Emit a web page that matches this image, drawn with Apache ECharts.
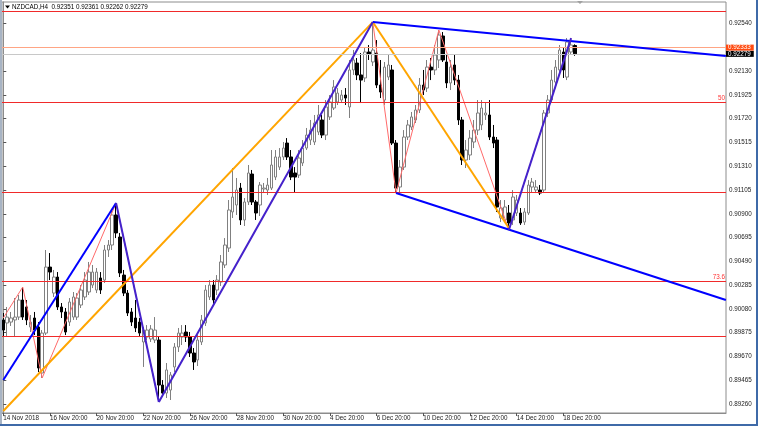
<!DOCTYPE html>
<html><head><meta charset="utf-8">
<script src="https://cdn.jsdelivr.net/npm/echarts@6/dist/echarts.min.js"></script>
<style>html,body{margin:0;padding:0;background:#fff}#c{width:758px;height:426px}</style>
</head><body><div id="c"></div>
<script>
// ---- data ----
const symbolName = 'NZDCAD,H4';
const timeLabels = ['14 Nov 2018','16 Nov 20:00','20 Nov 20:00','22 Nov 20:00','26 Nov 20:00','28 Nov 20:00','30 Nov 20:00','4 Dec 20:00','6 Dec 20:00','10 Dec 20:00','12 Dec 20:00','14 Dec 20:00','18 Dec 20:00'];
const timeLabelBars = [0,12,24,36,48,60,72,84,96,108,120,132,144];
const priceTicks = [0.92540,0.92130,0.91925,0.91720,0.91515,0.91310,0.91105,0.90900,0.90695,0.90490,0.90285,0.90080,0.89875,0.89670,0.89465,0.89260];

const opens = [
0.89985,0.89959,0.89967,0.89985,0.90010,0.90157,0.90097,0.89924,0.90002,0.89924,
0.89528,0.89872,0.90441,0.90217,0.90355,0.90097,0.90054,0.89967,0.90010,0.90010,
0.90114,0.90183,0.90226,0.90286,0.90243,0.90347,0.90329,0.90588,0.90631,0.90890,
0.90700,0.90372,0.90217,0.90054,0.90002,0.89967,0.89795,0.89838,0.89821,0.89812,
0.89812,0.89424,0.89355,0.89381,0.89580,0.89752,0.89838,0.89881,0.89838,0.89700,
0.89640,0.89795,0.89959,0.90183,0.90286,0.90243,0.90312,0.90459,0.90605,0.90916,
0.90976,0.91122,0.90847,0.91002,0.91243,0.91002,0.90976,0.91114,0.91105,0.91122,
0.91217,0.91303,0.91390,0.91510,0.91390,0.91252,0.91234,0.91338,0.91467,0.91536,
0.91519,0.91605,0.91709,0.91579,0.91735,0.91812,0.91864,0.91881,0.91924,0.91821,
0.92140,0.92200,0.92097,0.92071,0.92295,0.92209,0.92286,0.92010,0.91881,0.92079,
0.92140,0.91510,0.91131,0.91303,0.91562,0.91648,0.91709,0.91795,0.92010,0.91984,
0.92165,0.92140,0.92226,0.92433,0.92209,0.92028,0.92183,0.92053,0.91709,0.91364,
0.91407,0.91519,0.91622,0.91666,0.91752,0.91752,0.91562,0.91536,0.90864,0.90847,
0.90907,0.90847,0.90907,0.90907,0.90829,0.90907,0.91131,0.91105,0.91105,0.91105,
0.91769,0.91881,0.92036,0.92140,0.92295,0.92079,0.92295,0.92351];
const closes = [
0.89898,0.90010,0.90002,0.90010,0.90157,0.90010,0.89985,0.89967,0.89898,0.89571,
0.89872,0.90441,0.90398,0.90355,0.90097,0.90054,0.89881,0.90140,0.90183,0.90174,
0.90243,0.90329,0.90398,0.90398,0.90398,0.90243,0.90588,0.90631,0.90890,0.90735,
0.90390,0.90217,0.90045,0.89967,0.89916,0.89872,0.89898,0.89898,0.89907,0.89898,
0.89424,0.89355,0.89554,0.89511,0.89752,0.89872,0.89872,0.89838,0.89700,0.89623,
0.89812,0.89985,0.90243,0.90286,0.90157,0.90329,0.90485,0.90631,0.90933,0.91045,
0.91105,0.90847,0.91002,0.91252,0.91002,0.90907,0.91148,0.91122,0.91148,0.91321,
0.91390,0.91390,0.91467,0.91390,0.91217,0.91217,0.91381,0.91467,0.91579,0.91622,
0.91683,0.91752,0.91579,0.91821,0.91864,0.91993,0.91941,0.91924,0.91898,0.92140,
0.92226,0.92097,0.92053,0.92295,0.92278,0.92312,0.92010,0.91950,0.92165,0.92183,
0.91510,0.91122,0.91303,0.91562,0.91666,0.91735,0.91795,0.92010,0.91967,0.92165,
0.92140,0.92269,0.92441,0.92226,0.92028,0.92165,0.92053,0.91709,0.91364,0.91450,
0.91553,0.91622,0.91769,0.91812,0.91769,0.91562,0.91510,0.90959,0.90950,0.90959,
0.90821,0.91045,0.91019,0.90821,0.90916,0.91148,0.91174,0.91131,0.91079,0.91769,
0.91881,0.92053,0.92165,0.92312,0.92140,0.92381,0.92355,0.92279];
const lows = [
0.89838,0.89838,0.89933,0.89838,0.89985,0.89985,0.89941,0.89881,0.89855,0.89536,
0.89485,0.89855,0.90329,0.90183,0.90071,0.90002,0.89855,0.89933,0.89985,0.89985,
0.90088,0.90157,0.90200,0.90260,0.90217,0.90209,0.90304,0.90528,0.90588,0.90691,
0.90355,0.90191,0.90019,0.89933,0.89881,0.89838,0.89580,0.89812,0.89795,0.89786,
0.89278,0.89321,0.89312,0.89295,0.89536,0.89709,0.89769,0.89795,0.89666,0.89554,
0.89588,0.89769,0.89933,0.90157,0.90114,0.90200,0.90278,0.90433,0.90571,0.90864,
0.90890,0.90804,0.90795,0.90976,0.90976,0.90847,0.90881,0.91079,0.91062,0.91105,
0.91191,0.91278,0.91364,0.91364,0.91191,0.91088,0.91209,0.91312,0.91450,0.91493,
0.91493,0.91579,0.91553,0.91536,0.91709,0.91795,0.91838,0.91855,0.91838,0.91726,
0.92097,0.92053,0.91855,0.92036,0.92226,0.92174,0.91984,0.91898,0.91838,0.92053,
0.91493,0.91079,0.91088,0.91278,0.91536,0.91622,0.91683,0.91769,0.91924,0.91950,
0.92053,0.92097,0.92157,0.92209,0.91984,0.91967,0.92010,0.91666,0.91321,0.91295,
0.91364,0.91467,0.91579,0.91622,0.91709,0.91536,0.91467,0.90916,0.90829,0.90829,
0.90760,0.90804,0.90881,0.90804,0.90804,0.90890,0.91088,0.91079,0.91062,0.91079,
0.91735,0.91855,0.92010,0.92097,0.92071,0.92053,0.92269,0.92262];
const highs = [
0.90045,0.90097,0.90054,0.90174,0.90200,0.90269,0.90157,0.90028,0.90054,0.89967,
0.89898,0.90588,0.90562,0.90416,0.90398,0.90131,0.90088,0.90174,0.90226,0.90217,
0.90286,0.90398,0.90485,0.90459,0.90433,0.90398,0.90631,0.90674,0.90933,0.90993,
0.90735,0.90416,0.90243,0.90088,0.90157,0.90002,0.89924,0.89941,0.89941,0.90010,
0.89838,0.89467,0.89614,0.89536,0.89786,0.89916,0.89941,0.89941,0.89881,0.89743,
0.89855,0.90028,0.90286,0.90329,0.90329,0.90372,0.90545,0.90691,0.91019,0.91295,
0.91209,0.91166,0.91036,0.91321,0.91278,0.91019,0.91174,0.91166,0.91209,0.91450,
0.91450,0.91467,0.91519,0.91553,0.91450,0.91303,0.91450,0.91536,0.91640,0.91709,
0.91752,0.91838,0.91752,0.91881,0.91924,0.92053,0.91984,0.91967,0.91984,0.92226,
0.92312,0.92243,0.92286,0.92338,0.92355,0.92553,0.92398,0.92226,0.92209,0.92269,
0.92183,0.91536,0.91364,0.91622,0.91709,0.91778,0.91838,0.92071,0.92140,0.92226,
0.92243,0.92355,0.92484,0.92467,0.92269,0.92226,0.92269,0.92097,0.91735,0.91536,
0.91622,0.91709,0.91881,0.91881,0.91855,0.91881,0.91666,0.91562,0.91019,0.91019,
0.90976,0.91105,0.91062,0.90950,0.90950,0.91191,0.91209,0.91191,0.91148,0.91795,
0.91924,0.92140,0.92226,0.92355,0.92329,0.92415,0.92415,0.92361];

// horizontal levels
const levelPrices = [0.92642, 0.91866, 0.91090, 0.90321, 0.89841];
const levelLabels = ['', '50', '', '73.6', ''];
const askPrice = 0.92333;
const bidPrice = 0.92279;

// zigzag [bar, price]
const zigzag = [[0,0.90002],[5,0.90269],[10,0.89485],[29,0.90993],[40,0.89278],[95,0.92553],[101,0.91079],[112,0.92484],[130,0.90760],[146,0.92415]];
// trend lines [bar, price]
const blueUp = [[0,0.89467],[29,0.90993]];
const purpleDown = [[29,0.90993],[40,0.89278]];
const purpleUp = [[40,0.89278],[95,0.92553]];
const orangeUp = [[0,0.89200],[95,0.92553]];
const orangeDown = [[95,0.92553],[130,0.90778]];
const purpleUp2 = [[130,0.90760],[146,0.92415]];
const blueUpper = [[95,0.92553],[185.8,0.92260]];
const blueLower = [[101,0.91079],[185.8,0.90157]];

// ---- chart ----
const FONT = 'Liberation Sans';
const FS = 6.3;
const last = opens.length - 1;
const candleData = opens.map((o, i) => [i, o, closes[i], lows[i], highs[i]]);
function seg(data, color, width, z) {
  return {type:'line', data, symbol:'none', showSymbol:false, silent:true, clip:true,
    lineStyle:{color, width}, z, animation:false};
}
const levelMarks = levelPrices.map((p, k) => ({
  yAxis: p,
  lineStyle: {color:'#f02a2a', width:1, type:'solid'},
  label: {show: !!levelLabels[k], formatter: levelLabels[k], position:'insideEndTop',
    color:'#ff3333', fontSize:FS, fontFamily:FONT, distance:1}
}));
const priceMarks = [
  {yAxis: bidPrice, lineStyle:{color:'#c8c8c8', width:1, type:'solid'},
   label:{show:true, position:'end', formatter: bidPrice.toFixed(5), color:'#fff', backgroundColor:'#000',
     fontSize:FS, fontFamily:FONT, padding:[0,3,0,2], lineHeight:6, distance:0}},
  {yAxis: askPrice, lineStyle:{color:'#ffa584', width:1, type:'solid'},
   label:{show:true, position:'end', formatter: askPrice.toFixed(5), color:'#fff', backgroundColor:'#ff4a10',
     fontSize:FS, fontFamily:FONT, padding:[0,3,0,2], lineHeight:6, distance:0}}
];

const titleText = symbolName + '  ' + [opens[last], highs[last], lows[last], closes[last]].map(v => v.toFixed(5)).join(' ');

const option = {
  animation: false,
  backgroundColor: '#ffffff',
  textStyle: {fontFamily: FONT},
  grid: {left:2, right:32, top:2, bottom:13, show:true, borderColor:'#8c8c8c', borderWidth:1, backgroundColor:'#fff'},
  xAxis: {
    type:'value', min:-0.33, max:185.83,
    axisLine:{show:true, lineStyle:{color:'#8c8c8c', width:1}},
    axisTick:{show:true, customValues: timeLabelBars, length:3, lineStyle:{color:'#555'}},
    axisLabel:{show:true, customValues: timeLabelBars, align:'left', margin:2, fontSize:FS, color:'#222',
      formatter: v => timeLabels[timeLabelBars.indexOf(Math.round(v))] || ''},
    splitLine:{show:false}
  },
  yAxis: {
    type:'value', position:'right', min:0.89183, max:0.92726, scale:true,
    axisLine:{show:true, lineStyle:{color:'#8c8c8c', width:1}},
    axisTick:{show:true, customValues: priceTicks, length:3, lineStyle:{color:'#555'}},
    axisLabel:{show:true, customValues: priceTicks, margin:3, fontSize:FS, color:'#222',
      formatter: v => v.toFixed(5)},
    splitLine:{show:false}
  },
  series: [
    {type:'candlestick', data:candleData, barWidth:3, z:2, silent:true,
      dimensions:['x','open','close','lowest','highest'],
      encode:{x:'x', y:['open','close','lowest','highest']},
      itemStyle:{color:'#ffffff', color0:'#000000', borderColor:'#808080', borderColor0:'#000000', borderWidth:1}},
    Object.assign(seg(zigzag, '#ff6a6a', 1, 3), {markLine:{symbol:'none', silent:true, animation:false, precision:5, data: levelMarks.concat(priceMarks)}}),
    seg(orangeUp, '#ffa500', 2, 4),
    seg(orangeDown, '#ffa500', 2, 4),
    seg(blueUp, '#0000ff', 2, 5),
    seg(blueUpper, '#0000ff', 2, 5),
    seg(blueLower, '#0000ff', 2, 5),
    seg(purpleDown, '#4422cc', 2, 5),
    seg(purpleUp, '#4422cc', 2, 5),
    seg(purpleUp2, '#4422cc', 2, 5)
  ],
  graphic: [
    {type:'rect', shape:{x:0, y:0, width:2, height:426}, style:{fill:'#a8b4c4'}, silent:true, z:100},
    {type:'rect', shape:{x:756, y:0, width:2, height:426}, style:{fill:'#3f6aa8'}, silent:true, z:100},
    {type:'rect', shape:{x:0, y:424, width:758, height:2}, style:{fill:'#3f6aa8'}, silent:true, z:100},
    {type:'polygon', shape:{points:[[577,1],[583,1],[580,4]]}, style:{fill:'#a0a0a0'}, silent:true, z:100},
    {type:'polygon', shape:{points:[[5,5.5],[10,5.5],[7.5,8.5]]}, style:{fill:'#000'}, silent:true, z:100},
    {type:'text', x:12, y:7.5, style:{text: titleText, fill:'#000', font: FS + 'px "' + FONT + '"', textVerticalAlign:'middle'}, silent:true, z:100}
  ]
};
const chart = echarts.init(document.getElementById('c'), null, {renderer:'canvas'});
chart.setOption(option);
</script>
</body></html>
